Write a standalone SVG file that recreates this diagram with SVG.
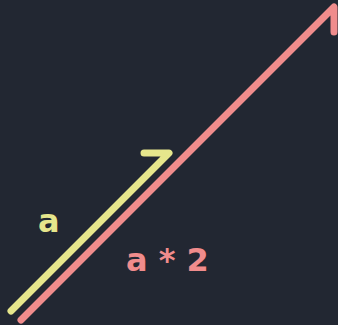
<svg xmlns="http://www.w3.org/2000/svg" width="338" height="325" viewBox="0 0 338 325">
<style>
.y{stroke:#e6e68c;stroke-width:7;stroke-linecap:round;stroke-linejoin:round;fill:none}
.p{stroke:#f08c8c;stroke-width:7;stroke-linecap:round;stroke-linejoin:round;fill:none}
text{font-family:"DejaVu Sans",sans-serif;font-weight:bold;font-size:32px}
</style>
<rect width="338" height="325" fill="#222732"/>
<g id="connectors">
<path id="vec-a" class="y" d="M11,311 L169,153 L144,153"/>
<path id="vec-a2" class="p" d="M21,320 L334,7 L334,32"/>
</g>
<g id="label-a"><text x="38" y="232" fill="#e6e68c">a</text></g>
<g id="label-a2"><text x="126" y="271" fill="#f08c8c">a * 2</text></g>
</svg>
